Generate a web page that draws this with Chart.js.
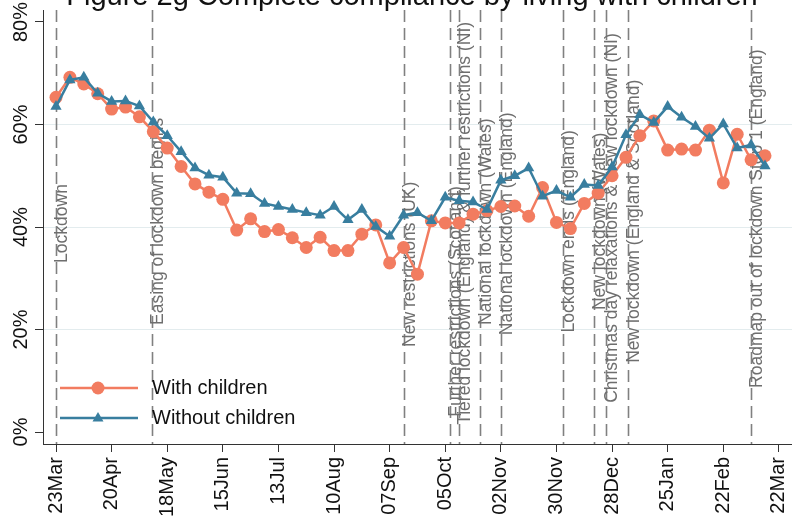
<!DOCTYPE html>
<html>
<head>
<meta charset="utf-8">
<style>
  html, body { margin: 0; padding: 0; background: #fff; }
  #wrap { width: 792px; height: 521px; overflow: hidden; }
</style>
<script src="https://cdn.jsdelivr.net/npm/chart.js@4.4.1/dist/chart.umd.min.js"></script>
</head>
<body>
<div id="wrap"><canvas id="chart" width="792" height="521"></canvas></div>
<script>
// Survey weeks, as days since 23 March 2020
const weekDays = [0, 7, 14, 21, 28, 35, 42, 49, 56, 63, 70, 77, 84, 91, 98, 105, 112, 119, 126, 133,
    140, 147, 154, 161, 168, 175, 182, 189, 196, 203, 210, 217, 224, 231, 238, 245, 252, 259, 266, 273,
    280, 287, 294, 301, 308, 315, 322, 329, 336, 343, 350, 357];

// % complete compliance
const withChildren = [65.3, 69.2, 67.9, 66.0, 63.0, 63.4, 61.5, 58.6, 55.4, 51.8, 48.4, 46.8, 45.4, 39.4,
    41.6, 39.1, 39.5, 37.9, 36.0, 38.0, 35.4, 35.4, 38.6, 40.4, 33.0, 36.0, 30.8, 41.2, 40.8, 40.8,
    42.5, 43.2, 44.0, 44.1, 42.1, 47.7, 40.9, 39.7, 44.6, 46.6, 50.0, 53.6, 57.8, 60.7, 55.0, 55.2,
    55.0, 58.9, 48.6, 58.1, 53.1, 53.9];
const withoutChildren = [63.5, 68.7, 69.2, 66.1, 64.5, 64.6, 63.6, 60.5, 57.8, 54.7, 51.5, 50.1, 49.7, 46.6,
    46.5, 44.6, 44.0, 43.4, 42.8, 42.3, 44.0, 41.4, 43.4, 40.1, 38.2, 42.3, 42.8, 41.2, 45.8, 45.1,
    44.9, 43.4, 49.1, 50.0, 51.5, 46.0, 47.1, 45.8, 48.3, 48.1, 51.7, 58.0, 61.9, 60.4, 63.5, 61.4,
    59.6, 57.3, 60.1, 55.4, 56.0, 51.9];

const tickDays = [0, 28, 56, 84, 112, 140, 168, 196, 224, 252, 280, 308, 336, 364];
const tickLabels = ['23Mar', '20Apr', '18May', '15Jun', '13Jul', '10Aug', '07Sep', '05Oct',
    '02Nov', '30Nov', '28Dec', '25Jan', '22Feb', '22Mar'];
const yTicks = [0, 20, 40, 60, 80];

// Policy events
const eventDays = [0, 48.5, 175, 198.5, 203, 213.5, 224, 255.5, 271, 277, 288, 350];
const eventLabels = ['Lockdown', 'Easing of lockdown begins', 'New restrictions (UK)',
    'Further restrictions (Scotland)', 'Tiered lockdown (England) & further restrictions (NI)',
    'National lockdown (Wales)', 'National lockdown (England)', 'Lockdown ends (England)',
    'New lockdown (Wales)', 'Christmas day relaxations & New lockdown (NI)',
    'New lockdown (England & Scotland)', 'Roadmap out of lockdown Step 1 (England)'];
// y value where each rotated label starts
const eventLabelStart = [33.0, 20.9, 16.6, 3.0, 1.4, 20.9, 18.9, 19.4, 23.8, 5.7, 13.5, 8.6];

const FONT = '"Liberation Sans", Arial, sans-serif';
const RED = '#f27c60';
const BLUE = '#387e9f';

// dashed event lines + their labels, behind the series
const eventLines = {
    id: 'eventLines',
    beforeDatasetsDraw(chart) {
        const { ctx, chartArea, scales: { x, y } } = chart;
        ctx.save();
        ctx.strokeStyle = '#808080';
        ctx.lineWidth = 1.6;
        ctx.setLineDash([12, 6]);
        eventDays.forEach(d => {
            const px = Math.round(x.getPixelForValue(d)) + 0.5;
            ctx.beginPath();
            ctx.moveTo(px, chartArea.top);
            ctx.lineTo(px, chartArea.bottom);
            ctx.stroke();
        });
        ctx.setLineDash([]);
        ctx.fillStyle = '#6e6e6e';
        ctx.font = '17.5px ' + FONT;
        ctx.textAlign = 'left';
        ctx.textBaseline = 'alphabetic';
        eventDays.forEach((d, i) => {
            ctx.save();
            ctx.translate(x.getPixelForValue(d) + 11, y.getPixelForValue(eventLabelStart[i]));
            ctx.rotate(-Math.PI / 2);
            ctx.fillText(eventLabels[i], 0, 0);
            ctx.restore();
        });
        ctx.restore();
    }
};

// title (cut at the top), rotated y labels, legend
const extras = {
    id: 'extras',
    afterDraw(chart) {
        const { ctx, scales: { y } } = chart;
        ctx.save();
        ctx.fillStyle = '#111';
        ctx.font = '29px ' + FONT;
        ctx.textAlign = 'center';
        ctx.textBaseline = 'alphabetic';
        ctx.fillText('Figure 2g Complete compliance by living with children', 412, 5);

        ctx.font = '20px ' + FONT;
        yTicks.forEach(v => {
            ctx.save();
            ctx.translate(27, y.getPixelForValue(v));
            ctx.rotate(-Math.PI / 2);
            ctx.fillText(v + '%', 0, 0);
            ctx.restore();
        });

        // legend
        const rows = [
            { label: 'With children', color: RED, style: 'circle', y: 388 },
            { label: 'Without children', color: BLUE, style: 'triangle', y: 418 }
        ];
        rows.forEach(r => {
            ctx.strokeStyle = r.color;
            ctx.fillStyle = r.color;
            ctx.lineWidth = 2.5;
            ctx.beginPath();
            ctx.moveTo(60, r.y);
            ctx.lineTo(138, r.y);
            ctx.stroke();
            ctx.beginPath();
            if (r.style === 'circle') {
                ctx.arc(98, r.y, 6.5, 0, Math.PI * 2);
            } else {
                ctx.moveTo(98, r.y - 6);
                ctx.lineTo(103.5, r.y + 3.5);
                ctx.lineTo(92.5, r.y + 3.5);
                ctx.closePath();
            }
            ctx.fill();
            ctx.fillStyle = '#111';
            ctx.font = '20px ' + FONT;
            ctx.textAlign = 'left';
            ctx.textBaseline = 'middle';
            ctx.fillText(r.label, 152, r.y);
        });
        ctx.restore();
    }
};

const ctx = document.getElementById('chart').getContext('2d');
const chart = new Chart(ctx, {
    type: 'line',
    data: {
        datasets: [{
            label: 'With children',
            data: weekDays.map((d, i) => ({ x: d, y: withChildren[i] })),
            borderColor: RED,
            backgroundColor: RED,
            borderWidth: 2.5,
            pointStyle: 'circle',
            pointRadius: 6.5,
            pointBorderWidth: 0,
            tension: 0,
            order: 1
        }, {
            label: 'Without children',
            data: weekDays.map((d, i) => ({ x: d, y: withoutChildren[i] })),
            borderColor: BLUE,
            backgroundColor: BLUE,
            borderWidth: 2.5,
            pointStyle: 'triangle',
            pointRadius: 6.5,
            pointBorderWidth: 0,
            tension: 0,
            order: 0
        }]
    },
    options: {
        responsive: false,
        animation: false,
        layout: { padding: { top: 10, left: 0, right: 0, bottom: 0 }, autoPadding: false },
        plugins: {
            legend: { display: false },
            tooltip: { enabled: false }
        },
        scales: {
            x: {
                type: 'linear',
                min: -6.55,
                max: 370.6,
                afterBuildTicks: s => { s.ticks = tickDays.map(v => ({ value: v })); },
                afterFit: s => { s.height = 77; s.paddingLeft = 0; s.paddingRight = 0; },
                grid: { drawOnChartArea: false, drawTicks: true, tickLength: 8, tickColor: '#333' },
                border: { display: true, color: '#333', width: 1 },
                ticks: {
                    autoSkip: false,
                    minRotation: 90,
                    maxRotation: 90,
                    padding: 5,
                    color: '#111',
                    font: { family: FONT, size: 20 },
                    callback: v => tickLabels[tickDays.indexOf(v)] || ''
                }
            },
            y: {
                min: -2.34,
                max: 82.34,
                afterBuildTicks: s => { s.ticks = yTicks.map(v => ({ value: v })); },
                afterFit: s => { s.width = 43; },
                grid: {
                    color: c => (c.tick && (c.tick.value === 0 || c.tick.value === 80)) ? 'rgba(0,0,0,0)' : '#e3ecee',
                    tickColor: '#333',
                    tickLength: 8
                },
                border: { display: true, color: '#333', width: 1 },
                ticks: { display: false }
            }
        }
    },
    plugins: [eventLines, extras]
});
</script>
</body>
</html>
